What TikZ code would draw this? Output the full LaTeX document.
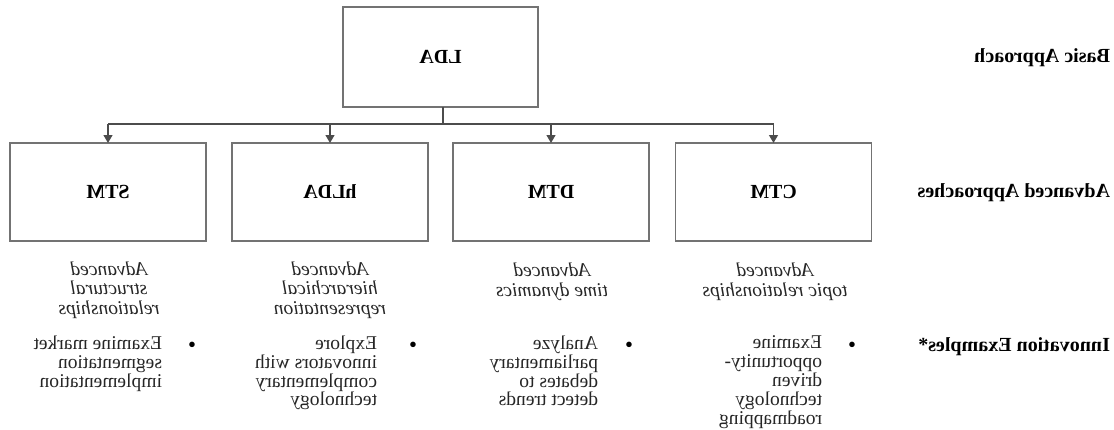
\documentclass[tikz,border=0pt]{standalone}
\usepackage{fontspec}
\setmainfont{Liberation Serif}
\usetikzlibrary{arrows.meta}
\begin{document}
\begin{tikzpicture}[x=1pt,y=-1pt,
  every node/.style={inner sep=0pt, outer sep=0pt},
  box/.style={draw=black!55, line width=1.6pt, minimum width=196pt, minimum height=98pt, font=\fontsize{20}{20}\selectfont\bfseries},
  lab/.style={anchor=west, font=\fontsize{20}{20}\selectfont\bfseries},
  desc/.style={align=center, font=\fontsize{19.5}{19.6}\selectfont\itshape, text=black!85},
  itemtext/.style={align=left, anchor=north west, font=\fontsize{19.5}{18.8}\selectfont, text=black!85},
  bul/.style={font=\fontsize{23}{23}\selectfont},
  conn/.style={draw=black!70, line width=1.2pt},
  arr/.style={conn, -{Triangle[length=8pt,width=9pt]}}
]
\useasboundingbox (0,0) rectangle (1114,429);
\begin{scope}[xshift=1114pt, xscale=-1, transform shape]
  % boxes
  \node[box, minimum width=195pt, minimum height=100pt] (lda) at (673.5,57) {LDA};
  \node[box] (ctm) at (340.5,192) {CTM};
  \node[box] (dtm) at (563,192) {DTM};
  \node[box] (hlda) at (784,192) {hLDA};
  \node[box] (stm) at (1006,192) {STM};
  % connectors
  \coordinate (bus) at (671,124);
  \draw[conn] (lda.south -| bus) -- (bus);
  \draw[conn] (ctm.north |- bus) -- (stm.north |- bus);
  \foreach \n in {ctm,dtm,hlda,stm}{
    \draw[arr] (\n.north |- bus) -- (\n.north);
  }
  % row labels
  \node[lab] (l1) at (4,58) {Basic Approach};
  \node[lab] (l2) at (4,193) {Advanced Approaches};
  \node[lab] (l3) at (4,347) {Innovation Examples*};
  % descriptions
  \node[desc] (dctm) at (339,282) {Advanced\\topic relationships};
  \node[desc] (ddtm) at (562,282) {Advanced\\time dynamics};
  \node[desc] (dhlda) at (784,290) {Advanced\\hierarchical\\representation};
  \node[desc] (dstm) at (1005,290) {Advanced\\structural\\relationships};
  % bullets
  \node[bul] (bctm) at (262,347) {•};
  \node[bul] (bdtm) at (485,347) {•};
  \node[bul] (bhlda) at (701,347) {•};
  \node[bul] (bstm) at (922,347) {•};
  \node[itemtext] (ictm) at (292,336) {Examine\\opportunity-\\driven\\technology\\roadmapping};
  \node[itemtext] (idtm) at (516,336) {Analyze\\parliamentary\\debates to\\detect trends};
  \node[itemtext] (ihlda) at (737,336) {Explore\\innovators with\\complementary\\technology};
  \node[itemtext] (istm) at (952,336) {Examine market\\segmentation\\implementation};
\end{scope}
\end{tikzpicture}
\end{document}
